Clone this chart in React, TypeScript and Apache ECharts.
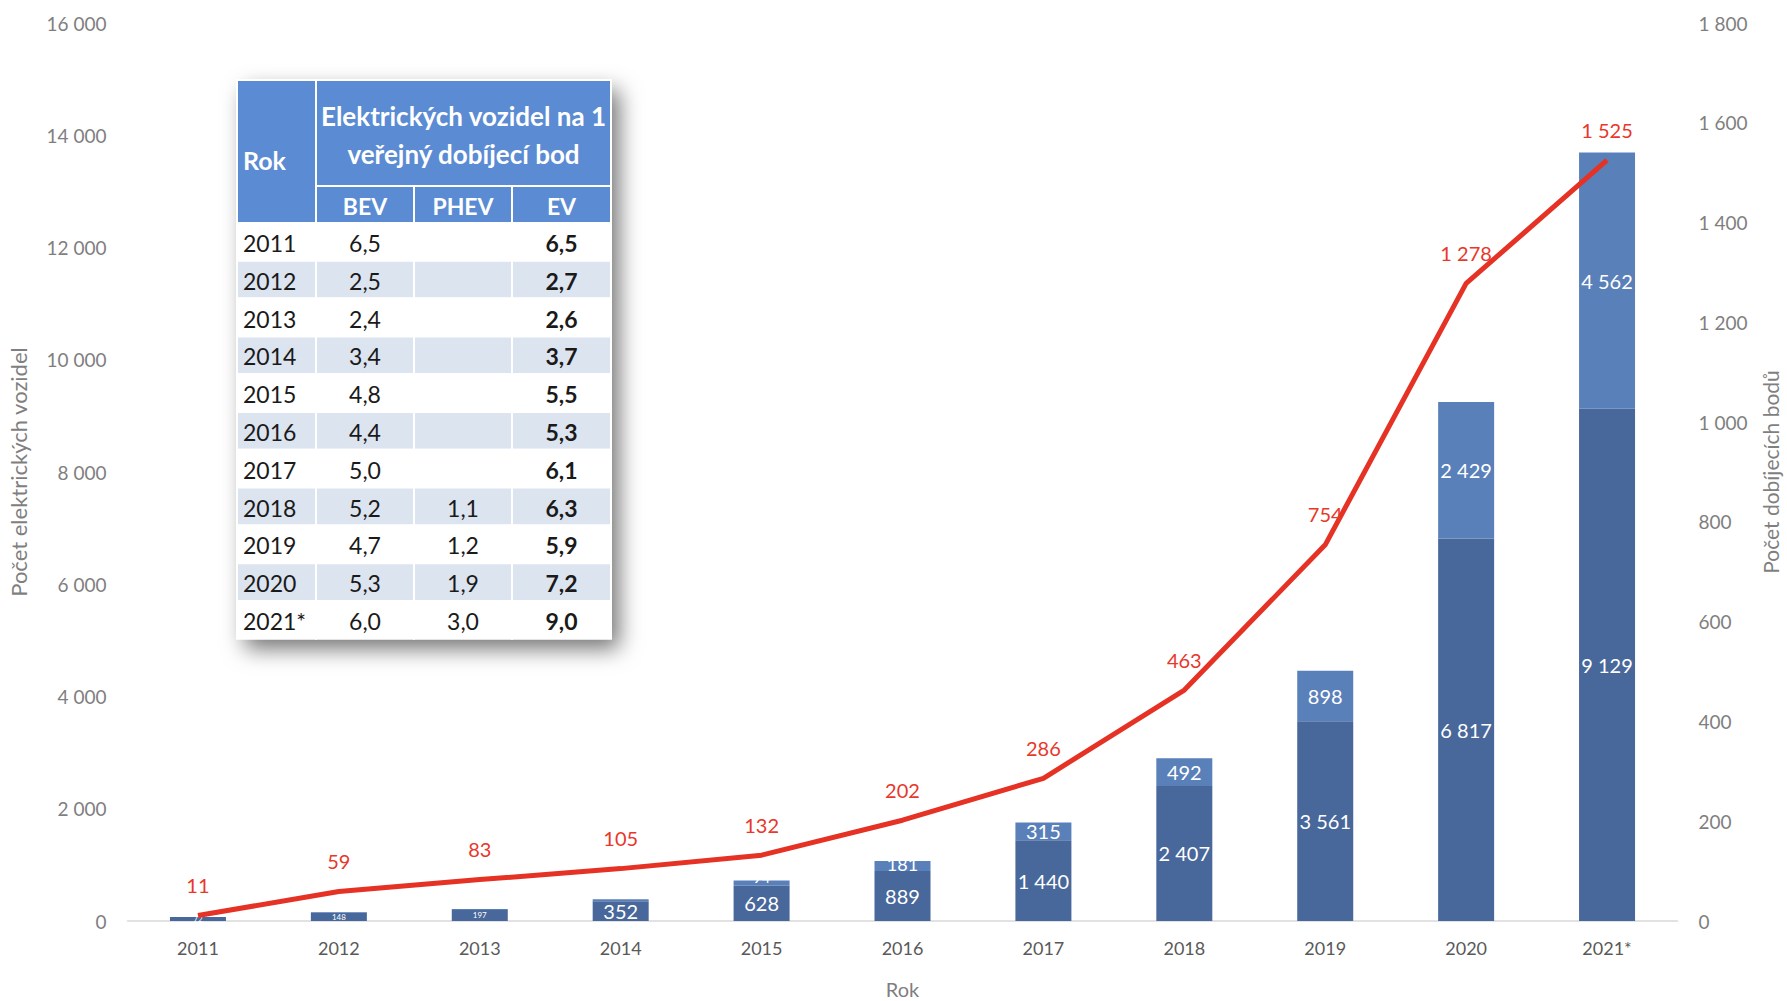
import React, { useEffect, useRef } from "react";
import * as echarts from "echarts";

const years = ["2011", "2012", "2013", "2014", "2015", "2016", "2017", "2018", "2019", "2020", "2021*"];
const bevCount = [72, 148, 197, 352, 628, 889, 1440, 2407, 3561, 6817, 9129];
const phevCount = [0, 11, 17, 35, 94, 181, 315, 492, 898, 2429, 4562];
const chargingPoints = [11, 59, 83, 105, 132, 202, 286, 463, 754, 1278, 1525];

const tableYears = ["2011", "2012", "2013", "2014", "2015", "2016", "2017", "2018", "2019", "2020", "2021*"];
const tableBev = ["6,5", "2,5", "2,4", "3,4", "4,8", "4,4", "5,0", "5,2", "4,7", "5,3", "6,0"];
const tablePhev = ["", "", "", "", "", "", "", "1,1", "1,2", "1,9", "3,0"];
const tableEv = ["6,5", "2,7", "2,6", "3,7", "5,5", "5,3", "6,1", "6,3", "5,9", "7,2", "9,0"];

const FONT = "Lato, 'Open Sans', sans-serif";
const fmt = (v: number) => String(v).replace(/\B(?=(\d{3})+(?!\d))/g, " ");

function buildTable() {
  const x0 = 237;
  const y0 = 80;
  const colW = [79, 98, 98, 99];
  const totalW = colW.reduce((a, b) => a + b, 0);
  const h1 = 106;
  const h2 = 37;
  const rowH = 37.8;
  const headBg = "#5b8bd2";
  const altBg = "#dce4f0";
  const els: any[] = [];
  const totalH = h1 + h2 + rowH * tableYears.length;
  els.push({
    type: "rect",
    shape: { x: x0, y: y0, width: totalW, height: totalH },
    style: { fill: "#fff", shadowBlur: 22, shadowColor: "rgba(0,0,0,0.55)", shadowOffsetX: 8, shadowOffsetY: 10 },
  });
  const cx = [x0, x0 + colW[0], x0 + colW[0] + colW[1], x0 + colW[0] + colW[1] + colW[2]];
  els.push({ type: "rect", shape: { x: x0, y: y0, width: colW[0], height: h1 + h2 }, style: { fill: headBg, stroke: "#fff", lineWidth: 2 } });
  els.push({ type: "rect", shape: { x: cx[1], y: y0, width: totalW - colW[0], height: h1 }, style: { fill: headBg, stroke: "#fff", lineWidth: 2 } });
  const subs = ["BEV", "PHEV", "EV"];
  for (let i = 0; i < 3; i++) {
    els.push({ type: "rect", shape: { x: cx[i + 1], y: y0 + h1, width: colW[i + 1], height: h2 }, style: { fill: headBg, stroke: "#fff", lineWidth: 2 } });
    els.push({
      type: "text",
      style: { text: subs[i], x: cx[i + 1] + colW[i + 1] / 2, y: y0 + h1 + h2 / 2 + 1, align: "center", verticalAlign: "middle", fill: "#fff", font: `bold 23px ${FONT}` },
    });
  }
  els.push({
    type: "text",
    style: { text: "Rok", x: x0 + 6, y: y0 + (h1 + h2) / 2 + 8, align: "left", verticalAlign: "middle", fill: "#fff", font: `bold 25px ${FONT}` },
  });
  els.push({
    type: "text",
    style: {
      text: "Elektrických vozidel na 1\nveřejný dobíjecí bod",
      x: cx[1] + (totalW - colW[0]) / 2,
      y: y0 + h1 / 2 + 2,
      align: "center",
      verticalAlign: "middle",
      lineHeight: 38,
      fill: "#fff",
      font: `bold 26px ${FONT}`,
    },
  });
  for (let r = 0; r < tableYears.length; r++) {
    const y = y0 + h1 + h2 + r * rowH;
    const bg = r % 2 === 1 ? altBg : "#fff";
    for (let c = 0; c < 4; c++) {
      els.push({ type: "rect", shape: { x: cx[c], y, width: colW[c], height: rowH }, style: { fill: bg, stroke: "#fff", lineWidth: 2 } });
    }
    const ty = y + rowH / 2 + 1;
    els.push({ type: "text", style: { text: tableYears[r], x: x0 + 6, y: ty, align: "left", verticalAlign: "middle", fill: "#1a1a1a", font: `23px ${FONT}` } });
    els.push({ type: "text", style: { text: tableBev[r], x: cx[1] + colW[1] / 2, y: ty, align: "center", verticalAlign: "middle", fill: "#1a1a1a", font: `23px ${FONT}` } });
    els.push({ type: "text", style: { text: tablePhev[r], x: cx[2] + colW[2] / 2, y: ty, align: "center", verticalAlign: "middle", fill: "#1a1a1a", font: `23px ${FONT}` } });
    els.push({ type: "text", style: { text: tableEv[r], x: cx[3] + colW[3] / 2, y: ty, align: "center", verticalAlign: "middle", fill: "#1a1a1a", font: `bold 23px ${FONT}` } });
  }
  return [{ type: "group", z: 100, children: els }];
}

function bevLabel(v: number) {
  if (v < 250) return { fontSize: 8 };
  return { fontSize: 20 };
}
function phevLabel(v: number) {
  if (v < 20) return { fontSize: 7, offset: [0, -6] };
  if (v < 60) return { fontSize: 9, offset: [0, -6] };
  if (v < 120) return { fontSize: 15, offset: [0, -6] };
  if (v < 200) return { fontSize: 18, offset: [0, -2] };
  return { fontSize: 20 };
}

export default function App() {
  const ref = useRef<HTMLDivElement>(null);
  useEffect(() => {
    document.body.style.margin = "0";
    const chart = echarts.init(ref.current!, null, { renderer: "svg" });
    const gray = "#7f7f7f";
    chart.setOption({
      animation: false,
      backgroundColor: "#fff",
      textStyle: { fontFamily: FONT },
      grid: { left: 127.5, right: 109.5, top: 23, bottom: 80, outerBoundsMode: "none", containLabel: false },
      xAxis: {
        type: "category",
        data: years,
        name: "Rok",
        nameLocation: "middle",
        nameGap: 58,
        nameTextStyle: { color: gray, fontSize: 20, fontFamily: FONT },
        axisLine: { lineStyle: { color: "#d9d9d9", width: 1.5 } },
        axisTick: { show: false },
        axisLabel: { color: "#595959", fontSize: 18, margin: 18, fontFamily: FONT },
      },
      yAxis: [
        {
          type: "value",
          min: 0,
          max: 16000,
          interval: 2000,
          name: "Počet elektrických vozidel",
          nameLocation: "middle",
          nameGap: 98,
          nameTextStyle: { color: gray, fontSize: 22, fontFamily: FONT },
          splitLine: { show: false },
          axisLine: { show: false },
          axisTick: { show: false },
          axisLabel: { color: gray, fontSize: 19, margin: 21, formatter: (v: number) => fmt(v), fontFamily: FONT },
        },
        {
          type: "value",
          min: 0,
          max: 1800,
          interval: 200,
          name: "Počet dobíjecích bodů",
          nameLocation: "middle",
          nameGap: 82,
          nameRotate: 90,
          nameTextStyle: { color: gray, fontSize: 21, fontFamily: FONT },
          splitLine: { show: false },
          axisLine: { show: false },
          axisTick: { show: false },
          axisLabel: { color: gray, fontSize: 19, margin: 21, formatter: (v: number) => fmt(v), fontFamily: FONT },
        },
      ],
      series: [
        {
          type: "bar",
          name: "BEV",
          stack: "ev",
          data: bevCount.map((v) => ({ value: v, label: bevLabel(v) })),
          barWidth: 56,
          itemStyle: { color: "#48679a" },
          label: { show: true, position: "inside", color: "#fff", fontSize: 20, fontFamily: FONT, formatter: (p: any) => fmt(p.value) },
        },
        {
          type: "bar",
          name: "PHEV",
          stack: "ev",
          data: phevCount.map((v) => ({ value: v, label: phevLabel(v) })),
          barWidth: 56,
          itemStyle: { color: "#5a80ba" },
          label: {
            show: true,
            position: "inside",
            color: "#fff",
            fontSize: 20,
            fontFamily: FONT,
            formatter: (p: any) => (p.value ? fmt(p.value) : ""),
          },
        },
        {
          type: "line",
          name: "Dobíjecí body",
          yAxisIndex: 1,
          data: chargingPoints,
          symbol: "circle",
          symbolSize: 1,
          showSymbol: true,
          itemStyle: { color: "rgba(229,50,36,0)", borderWidth: 0 },
          z: 10,
          lineStyle: { color: "#e53224", width: 5 },
          label: { show: true, position: "top", distance: 20, color: "#e8372b", fontSize: 20, fontFamily: FONT, formatter: (p: any) => fmt(p.value) },
        },
      ],
      graphic: buildTable(),
    });
    return () => chart.dispose();
  }, []);
  return <div ref={ref} style={{ position: "absolute", left: 0, top: 0, width: 1787, height: 1001 }} />;
}
